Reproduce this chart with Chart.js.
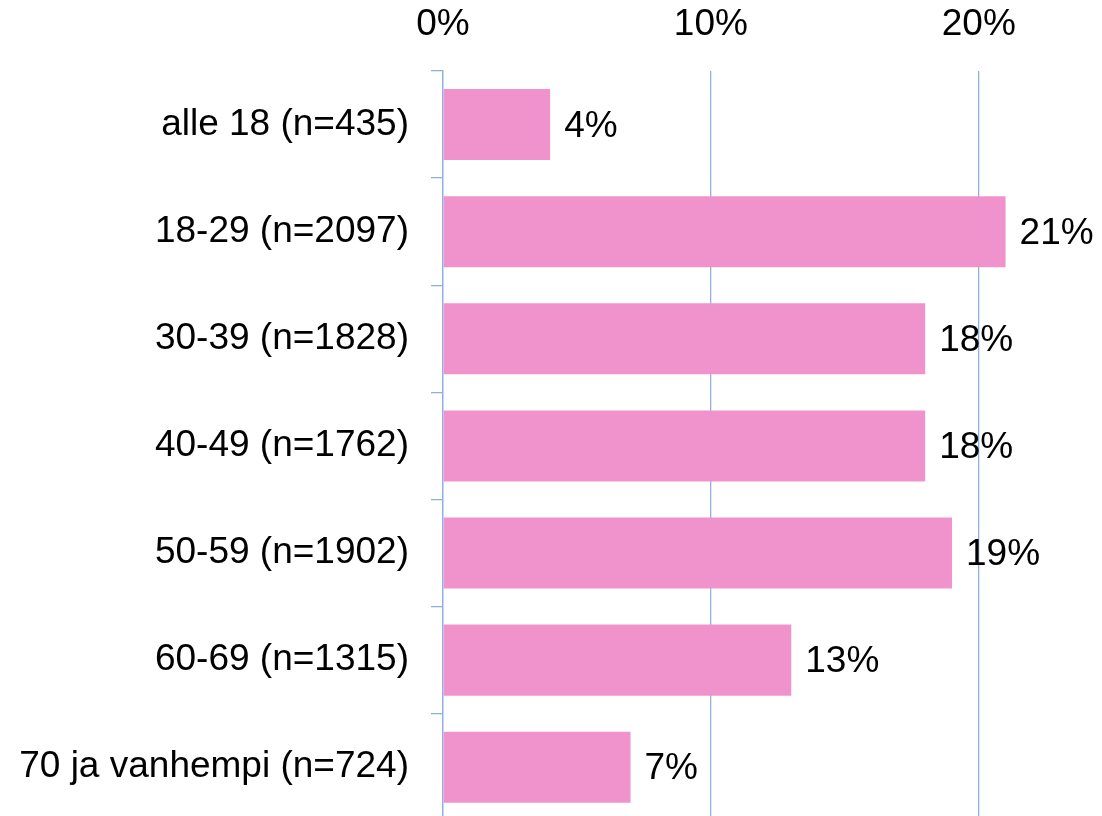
<!DOCTYPE html>
<html>
<head>
<meta charset="utf-8">
<script src="https://cdn.jsdelivr.net/npm/chart.js@4"></script>
<style>
  html, body { margin: 0; padding: 0; background: #fff; overflow: hidden; }
  canvas { display: block; }
</style>
</head>
<body>
<canvas id="chart" width="1102" height="865"></canvas>
<script>
const labels = ['alle 18 (n=435)', '18-29 (n=2097)', '30-39 (n=1828)', '40-49 (n=1762)', '50-59 (n=1902)', '60-69 (n=1315)', '70 ja vanhempi (n=724)'];
const values = [4, 21, 18, 18, 19, 13, 7];
const xTicks = [0, 10, 20];

const font = { family: "'Liberation Sans', Arial, sans-serif", size: 37 };
const blue = '#8EB1E0';

// draws the "21%" style labels next to each bar
const barLabels = {
    id: 'barLabels',
    afterDatasetsDraw(chart) {
        const ctx = chart.ctx;
        const meta = chart.getDatasetMeta(0);
        ctx.save();
        ctx.font = font.size + 'px ' + font.family;
        ctx.fillStyle = '#000';
        ctx.textAlign = 'left';
        ctx.textBaseline = 'middle';
        meta.data.forEach((bar, i) => {
            ctx.fillText(values[i] + '%', bar.x + 14, bar.y + 2);
        });
        ctx.restore();
    }
};

const ctx = document.getElementById('chart').getContext('2d');
new Chart(ctx, {
    type: 'bar',
    data: {
        labels: labels,
        datasets: [{
            data: values,
            backgroundColor: '#F093CD',
            borderWidth: 0,
            categoryPercentage: 1,
            barPercentage: 0.663
        }]
    },
    options: {
        indexAxis: 'y',
        responsive: false,
        animation: false,
        layout: { padding: 0 },
        plugins: { legend: { display: false }, tooltip: { enabled: false } },
        scales: {
            x: {
                position: 'top',
                min: 0,
                max: 24.6,
                afterBuildTicks: scale => { scale.ticks = xTicks.map(v => ({ value: v })); },
                afterFit: scale => { scale.height = 71; },
                grid: { color: blue, lineWidth: 1.3, tickLength: 0, drawTicks: false },
                border: { display: false },
                ticks: {
                    font: font,
                    color: '#000',
                    padding: 24,
                    maxRotation: 0,
                    callback: v => v + '%'
                }
            },
            y: {
                afterFit: scale => { scale.width = 443; },
                grid: { offset: true, drawOnChartArea: false, color: blue, tickLength: 12, lineWidth: 1.3 },
                border: { display: true, color: blue, width: 1.3 },
                ticks: { font: font, color: '#000', padding: 22 }
            }
        }
    },
    plugins: [barLabels]
});
</script>
</body>
</html>
